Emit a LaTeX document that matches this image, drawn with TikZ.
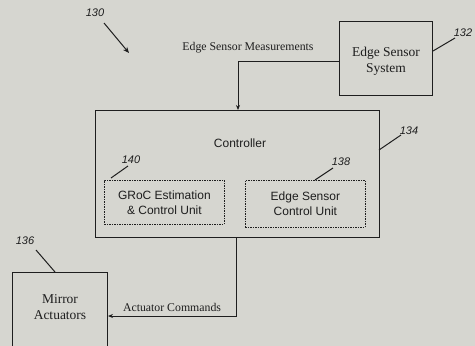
\documentclass[tikz,border=0pt]{standalone}
\usepackage{fontspec}
\setmainfont{Liberation Serif}
\setsansfont{Liberation Sans}
\usetikzlibrary{arrows.meta}
\definecolor{paper}{RGB}{214,214,208}
\definecolor{ink}{RGB}{30,30,30}
\tikzset{
  blk/.style={draw=ink, line width=1pt, fill=none},
  dbox/.style={draw=ink, line width=0.8pt, dash pattern=on 1.5pt off 1pt},
  conn/.style={draw=ink, line width=1pt},
  arr/.style={conn, -{Stealth[length=5pt,width=4pt]}},
  lead/.style={draw=ink, line width=1pt},
  sertxt/.style={font=\fontsize{11.8}{13}\selectfont, text=ink, align=center},
  boxtxt/.style={font=\fontsize{13.5}{16}\selectfont, text=ink, align=center},
  santxt/.style={font=\sffamily\fontsize{12}{15}\selectfont, text=ink, align=center},
  reftxt/.style={font=\sffamily\itshape\fontsize{11}{12}\selectfont, text=ink},
}
\begin{document}
\begin{tikzpicture}[x=1pt,y=-1pt]
\fill[paper] (0,0) rectangle (475,346);
\useasboundingbox (0,0) rectangle (475,346);
% boxes
\node[blk, minimum width=93pt, minimum height=74pt, anchor=north west] (ess) at (339,21) {};
\node[boxtxt] at (386,61) {Edge Sensor\\System};
\node[blk, minimum width=284pt, minimum height=127pt, anchor=north west] (ctl) at (95,110) {};
\node[santxt] (ctltxt) at (240,143) {Controller};
\node[dbox, minimum width=120pt, minimum height=44pt, anchor=north west] (groc) at (104,180) {};
\node[santxt] at (groc.center) {GRoC Estimation\\\& Control Unit};
\node[dbox, minimum width=120pt, minimum height=47pt, anchor=north west] (escu) at (245,180) {};
\node[santxt] at (escu.center) {Edge Sensor\\Control Unit};
\node[blk, minimum width=95pt, minimum height=80pt, anchor=north west] (ma) at (12,272) {};
\node[boxtxt] at (60,307) {Mirror\\Actuators};
% connectors
\coordinate (meTop) at (238,110);
\coordinate (acBot) at (236,237);
\draw[arr] (ess.west |- 0,61) -- (238,61) -- (meTop);
\draw[arr] (acBot) -- (236,316) -- (ma.east |- 0,316);
\node[sertxt, anchor=south] (mlab) at (248,57) {Edge Sensor Measurements};
\node[sertxt, anchor=south] (alab) at (172,315) {Actuator Commands};
% reference numerals
\node[reftxt] (r130) at (95,13) {130};
\draw[lead, -{Stealth[length=6pt,width=5pt]}] (104,23) -- (129,53);
\node[reftxt] (r132) at (463,33) {132};
\draw[lead] (433,51) -- (455,38);
\node[reftxt] (r134) at (409,131) {134};
\draw[lead] (379,150) -- (401,135);
\node[reftxt] (r140) at (131,160) {140};
\draw[lead] (111,178) -- (128,166);
\node[reftxt] (r138) at (341,162) {138};
\draw[lead] (315,180) -- (333,168);
\node[reftxt] (r136) at (25,241) {136};
\draw[lead] (36,250) -- (55,272);
\end{tikzpicture}
\end{document}
